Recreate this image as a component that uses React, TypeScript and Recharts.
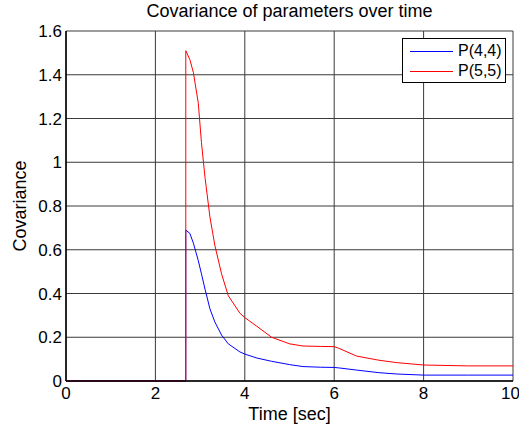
import { LineChart, Line, XAxis, YAxis, CartesianGrid } from "recharts"

const timeSec = [0, 2.68, 2.68, 2.77, 2.85, 2.96, 3.03, 3.11, 3.22, 3.33, 3.48, 3.63, 3.89, 4.0, 4.27, 4.6, 5.0, 5.3, 5.7, 6.0, 6.1, 6.5, 7.0, 7.4, 8.0, 9.0, 10]
const p44 = [0, 0, 0.69, 0.675, 0.63, 0.55, 0.49, 0.42, 0.33, 0.27, 0.21, 0.17, 0.133, 0.123, 0.105, 0.09, 0.075, 0.066, 0.063, 0.062, 0.06, 0.05, 0.038, 0.032, 0.027, 0.027, 0.027]
const p55 = [0, 0, 1.51, 1.47, 1.41, 1.27, 1.09, 0.93, 0.75, 0.62, 0.49, 0.39, 0.31, 0.29, 0.25, 0.2, 0.17, 0.16, 0.158, 0.157, 0.15, 0.114, 0.095, 0.084, 0.073, 0.069, 0.069]

const xTicks = [0, 2, 4, 6, 8, 10]
const yTicks = [0, 0.2, 0.4, 0.6, 0.8, 1, 1.2, 1.4, 1.6]

const data = timeSec.map((t, i) => ({ t, p44: p44[i], p55: p55[i] }))

const FONT = "'Liberation Sans', Arial, sans-serif"

function LegendBox() {
  const rows = [
    { name: "P(4,4)", color: "#0000ff" },
    { name: "P(5,5)", color: "#ff0000" },
  ]
  return (
    <div
      style={{
        position: "absolute",
        left: 402,
        top: 38,
        width: 104,
        height: 45,
        border: "1px solid #000",
        background: "#fff",
        fontFamily: FONT,
        fontSize: 16,
        padding: "2px 0 0 0",
        boxSizing: "border-box",
      }}
    >
      {rows.map((r) => (
        <div key={r.name} style={{ display: "flex", alignItems: "center", height: 20 }}>
          <div style={{ width: 43, height: 1, background: r.color, marginLeft: 7, marginRight: 5 }} />
          <span style={{ color: "#000" }}>{r.name}</span>
        </div>
      ))}
    </div>
  )
}

export default function App() {
  return (
    <div style={{ position: "absolute", left: 0, top: 0, width: 519, height: 429, background: "#fff", fontFamily: FONT }}>
      <div style={{ position: "absolute", top: 1, left: 66, width: 447, textAlign: "center", fontSize: 18, color: "#000" }}>
        Covariance of parameters over time
      </div>
      <LineChart width={519} height={429} data={data} margin={{ top: 31, right: 6, left: 0, bottom: 0 }}>
        <CartesianGrid stroke="#3a3a3a" strokeWidth={1} horizontalValues={yTicks} verticalValues={xTicks} />
        <XAxis
          dataKey="t"
          type="number"
          domain={[0, 10]}
          ticks={xTicks}
          height={48}
          tickLine={false}
          tickSize={2}
          axisLine={{ stroke: "#000", strokeWidth: 1.5 }}
          tick={{ fill: "#000", fontSize: 17, fontFamily: FONT }}
          tickMargin={4}
          label={{ value: "Time [sec]", position: "insideBottom", offset: 9, fill: "#000", fontSize: 18, fontFamily: FONT }}
        />
        <XAxis xAxisId="top" orientation="top" type="number" domain={[0, 10]} height={0} tick={false} tickLine={false} axisLine={{ stroke: "#000", strokeWidth: 1.5 }} />
        <YAxis
          type="number"
          domain={[0, 1.6]}
          ticks={yTicks}
          width={66}
          tickLine={false}
          tickSize={2}
          axisLine={{ stroke: "#000", strokeWidth: 1.5 }}
          tick={{ fill: "#000", fontSize: 17, fontFamily: FONT }}
          tickMargin={2}
          label={{ value: "Covariance", angle: -90, position: "insideLeft", offset: 20, style: { textAnchor: "middle" }, fill: "#000", fontSize: 18, fontFamily: FONT }}
        />
        <YAxis yAxisId="right" orientation="right" type="number" domain={[0, 1.6]} width={0} tick={false} tickLine={false} axisLine={{ stroke: "#000", strokeWidth: 1.5 }} />
        <Line type="linear" dataKey="p44" stroke="#0000ff" strokeWidth={1} dot={false} isAnimationActive={false} />
        <Line type="linear" dataKey="p55" stroke="#ff0000" strokeWidth={1} dot={false} isAnimationActive={false} />
      </LineChart>
      <LegendBox />
    </div>
  )
}
